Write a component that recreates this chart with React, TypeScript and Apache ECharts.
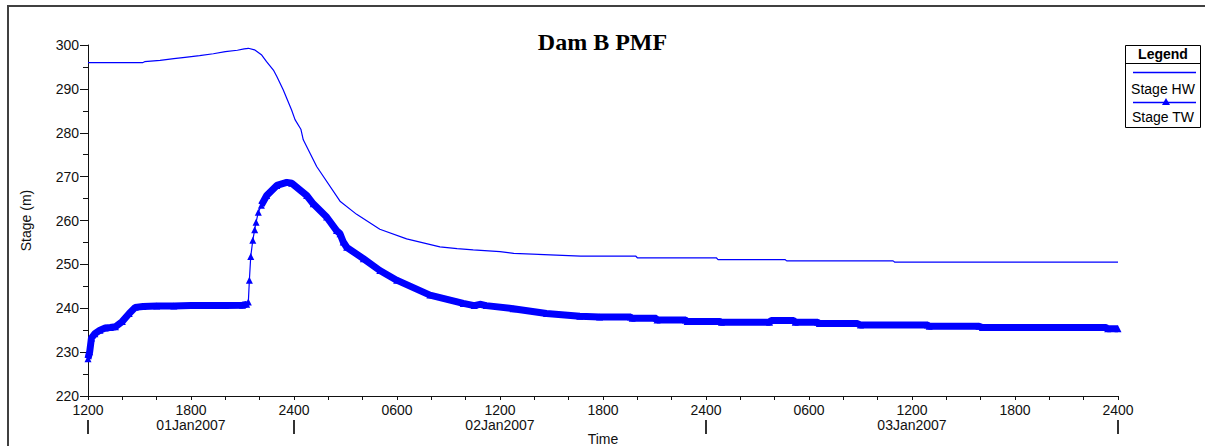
import React, { useEffect, useRef } from "react";
import * as echarts from "echarts";

// hours since 01Jan2007 12:00
const hwPoints: [number, number][] = [
  [0, 296.0], [3.2, 296.0], [3.3, 296.2], [4.2, 296.5], [5.0, 296.9], [5.65, 297.2],
  [6.5, 297.6], [7.3, 298.0], [8.0, 298.5], [8.7, 298.8], [9.1, 299.1], [9.34, 299.25],
  [9.7, 298.9], [10.1, 297.8], [10.4, 296.2], [10.8, 294.3], [11.0, 292.8], [11.37, 289.8],
  [11.86, 285.2], [12.06, 283.0], [12.4, 280.8], [12.54, 278.4], [13.32, 272.3],
  [14.68, 264.4], [15.65, 261.4], [17.0, 258.0], [18.56, 255.8], [20.5, 254.0],
  [21.5, 253.6], [22.44, 253.3], [24.0, 252.9], [24.8, 252.5], [28.7, 251.9],
  [31.9, 251.9], [32.0, 251.5], [36.6, 251.5], [36.7, 251.1], [40.6, 251.1],
  [40.7, 250.8], [46.9, 250.8], [47.0, 250.5], [60, 250.5],
];

const twPoints: [number, number][] = [
  [0, 228.5], [0.1, 230.1], [0.2, 233.2], [0.4, 234.2], [0.7, 235.0], [1.0, 235.5],
  [1.3, 235.6], [1.6, 235.8], [2.0, 237.0], [2.4, 238.8], [2.75, 240.2], [3.2, 240.4],
  [4.0, 240.5], [5.0, 240.5], [6.0, 240.6], [7.0, 240.6], [8.0, 240.6], [9.0, 240.7],
  [9.24, 240.9], [9.34, 241.4], [9.4, 246.4], [9.48, 251.8], [9.6, 255.5], [9.71, 257.9],
  [9.79, 259.6], [9.92, 261.9], [10.1, 263.5], [10.41, 265.7], [11.0, 268.0],
  [11.58, 268.7], [11.87, 268.5], [12.74, 265.7], [13.12, 263.8], [13.9, 260.8],
  [14.48, 257.7], [14.68, 257.0], [14.87, 255.1], [15.07, 253.9], [16.04, 251.3],
  [17.0, 248.6], [17.98, 246.4], [19.92, 243.0], [21.86, 241.1], [22.5, 240.6],
  [22.83, 240.9], [23.2, 240.6], [24.77, 239.9], [26.71, 238.8], [28.65, 238.2],
  [29.8, 238.0], [31.6, 238.0], [31.7, 237.7], [33.1, 237.7], [33.15, 237.3],
  [34.8, 237.3], [34.9, 237.0], [36.8, 237.0], [36.9, 236.8], [39.7, 236.8],
  [39.8, 237.2], [41.1, 237.2], [41.2, 236.8], [42.5, 236.8], [42.6, 236.5],
  [44.8, 236.5], [45.0, 236.2], [48.9, 236.2], [49.0, 235.9], [51.9, 235.9],
  [52.1, 235.6], [59.3, 235.6], [59.4, 235.3], [60, 235.3],
];

const dayBoundaryHours = [0, 12, 36, 60];
const dateLabelHours = [6, 24, 48];
const dateLabelNames = ["01Jan2007", "02Jan2007", "03Jan2007"];
const seriesNames = ["Stage HW", "Stage TW"];

const BLUE = "#0000ff";
const FONT = "Liberation Sans, Arial, sans-serif";

const fmtHour = (h: number) => {
  const hh = (12 + Math.round(h)) % 24;
  const v = hh === 0 ? 24 : hh;
  return String(v).padStart(2, "0") + "00";
};

export default function App() {
  const ref = useRef<HTMLDivElement>(null);
  useEffect(() => {
    if (!ref.current) return;
    const chart = echarts.init(ref.current, undefined, { renderer: "svg" });
    const bandData = twPoints.map((p) =>
      p[0] > 9.3 && p[0] < 10.0 ? [p[0], null] : p
    );
    chart.setOption({
      animation: false,
      backgroundColor: "#fff",
      title: {
        text: "Dam B PMF",
        left: "center",
        top: 25,
        textStyle: {
          fontFamily: "Liberation Serif, Times New Roman, serif",
          fontWeight: "bold",
          fontSize: 24,
          color: "#000",
        },
      },
      grid: { left: 88, right: 87, top: 45, bottom: 50, outerBoundsMode: "none", containLabel: false },
      xAxis: [
        {
          type: "value",
          min: 0,
          max: 60,
          interval: 6,
          name: "Time",
          nameLocation: "middle",
          nameGap: 36,
          nameTextStyle: { fontFamily: FONT, fontSize: 14, color: "#111" },
          axisLine: { show: true, lineStyle: { color: "#111", width: 1 } },
          axisTick: { show: true, length: 4, lineStyle: { color: "#111" } },
          minorTick: { show: true, splitNumber: 3, length: 4, lineStyle: { color: "#111" } },
          splitLine: { show: false },
          axisLabel: {
            margin: 7,
            fontFamily: FONT,
            fontSize: 14,
            color: "#111",
            formatter: (v: number) => fmtHour(v),
            showMinLabel: true,
            showMaxLabel: true,
          },
        },
        {
          type: "value",
          min: 0,
          max: 60,
          position: "bottom",
          offset: 24,
          axisLine: { show: false },
          axisTick: {
            show: true,
            customValues: dayBoundaryHours,
            length: 14,
            lineStyle: { color: "#333", width: 2 },
          },
          splitLine: { show: false },
          axisLabel: {
            customValues: dateLabelHours,
            margin: -2,
            fontFamily: FONT,
            fontSize: 14,
            color: "#111",
            formatter: (v: number) => dateLabelNames[dateLabelHours.indexOf(v)] ?? "",
          },
        },
      ],
      yAxis: {
        type: "value",
        min: 220,
        max: 300,
        interval: 10,
        name: "Stage (m)",
        nameLocation: "middle",
        nameGap: 55,
        nameTextStyle: { fontFamily: FONT, fontSize: 14, color: "#111" },
        axisLine: { show: true, lineStyle: { color: "#111", width: 1 } },
        axisTick: { show: true, length: 8, lineStyle: { color: "#111" } },
        minorTick: { show: true, splitNumber: 2, length: 5, lineStyle: { color: "#111" } },
        splitLine: { show: false },
        axisLabel: { margin: 9, fontFamily: FONT, fontSize: 14, color: "#111" },
      },
      series: [
        {
          name: seriesNames[0],
          type: "line",
          xAxisIndex: 0,
          data: hwPoints,
          showSymbol: false,
          symbol: "none",
          lineStyle: { color: BLUE, width: 1.2 },
        },
        {
          name: seriesNames[1] + " band",
          type: "line",
          xAxisIndex: 0,
          data: bandData,
          symbol: "none",
          connectNulls: false,
          silent: true,
          lineStyle: { color: BLUE, width: 7 },
        },
        {
          name: seriesNames[1],
          type: "line",
          xAxisIndex: 0,
          data: twPoints,
          symbol: "triangle",
          symbolSize: 7,
          showAllSymbol: true,
          itemStyle: { color: BLUE },
          lineStyle: { color: BLUE, width: 1.2 },
        },
      ],
      graphic: [
        {
          type: "polyline",
          shape: { points: [[8, 446], [8, 6], [1205, 6]] },
          style: { stroke: "#404040", lineWidth: 2, fill: "none" },
        },
        {
          type: "group",
          children: [
            {
              type: "rect",
              shape: { x: 1125.5, y: 45.5, width: 75, height: 82 },
              style: { fill: "#fff", stroke: "#000", lineWidth: 1 },
            },
            {
              type: "line",
              shape: { x1: 1125.5, y1: 63.5, x2: 1200.5, y2: 63.5 },
              style: { stroke: "#000", lineWidth: 1 },
            },
            {
              type: "text",
              x: 1163,
              y: 54,
              style: {
                text: "Legend",
                fontFamily: FONT,
                fontWeight: "bold",
                fontSize: 14,
                fill: "#000",
                align: "center",
                verticalAlign: "middle",
              },
            },
            {
              type: "line",
              shape: { x1: 1133, y1: 72.5, x2: 1196, y2: 72.5 },
              style: { stroke: BLUE, lineWidth: 1.5 },
            },
            {
              type: "text",
              x: 1163,
              y: 89,
              style: {
                text: seriesNames[0],
                fontFamily: FONT,
                fontSize: 14,
                fill: "#000",
                align: "center",
                verticalAlign: "middle",
              },
            },
            {
              type: "line",
              shape: { x1: 1133, y1: 102.5, x2: 1196, y2: 102.5 },
              style: { stroke: BLUE, lineWidth: 1.5 },
            },
            {
              type: "polygon",
              shape: { points: [[1166, 98], [1162, 105], [1170, 105]] },
              style: { fill: BLUE },
            },
            {
              type: "text",
              x: 1163,
              y: 117,
              style: {
                text: seriesNames[1],
                fontFamily: FONT,
                fontSize: 14,
                fill: "#000",
                align: "center",
                verticalAlign: "middle",
              },
            },
          ],
        },
      ],
    });
    return () => chart.dispose();
  }, []);
  return (
    <div
      ref={ref}
      style={{ position: "fixed", left: 0, top: 0, width: 1205, height: 446, background: "#fff" }}
    />
  );
}
